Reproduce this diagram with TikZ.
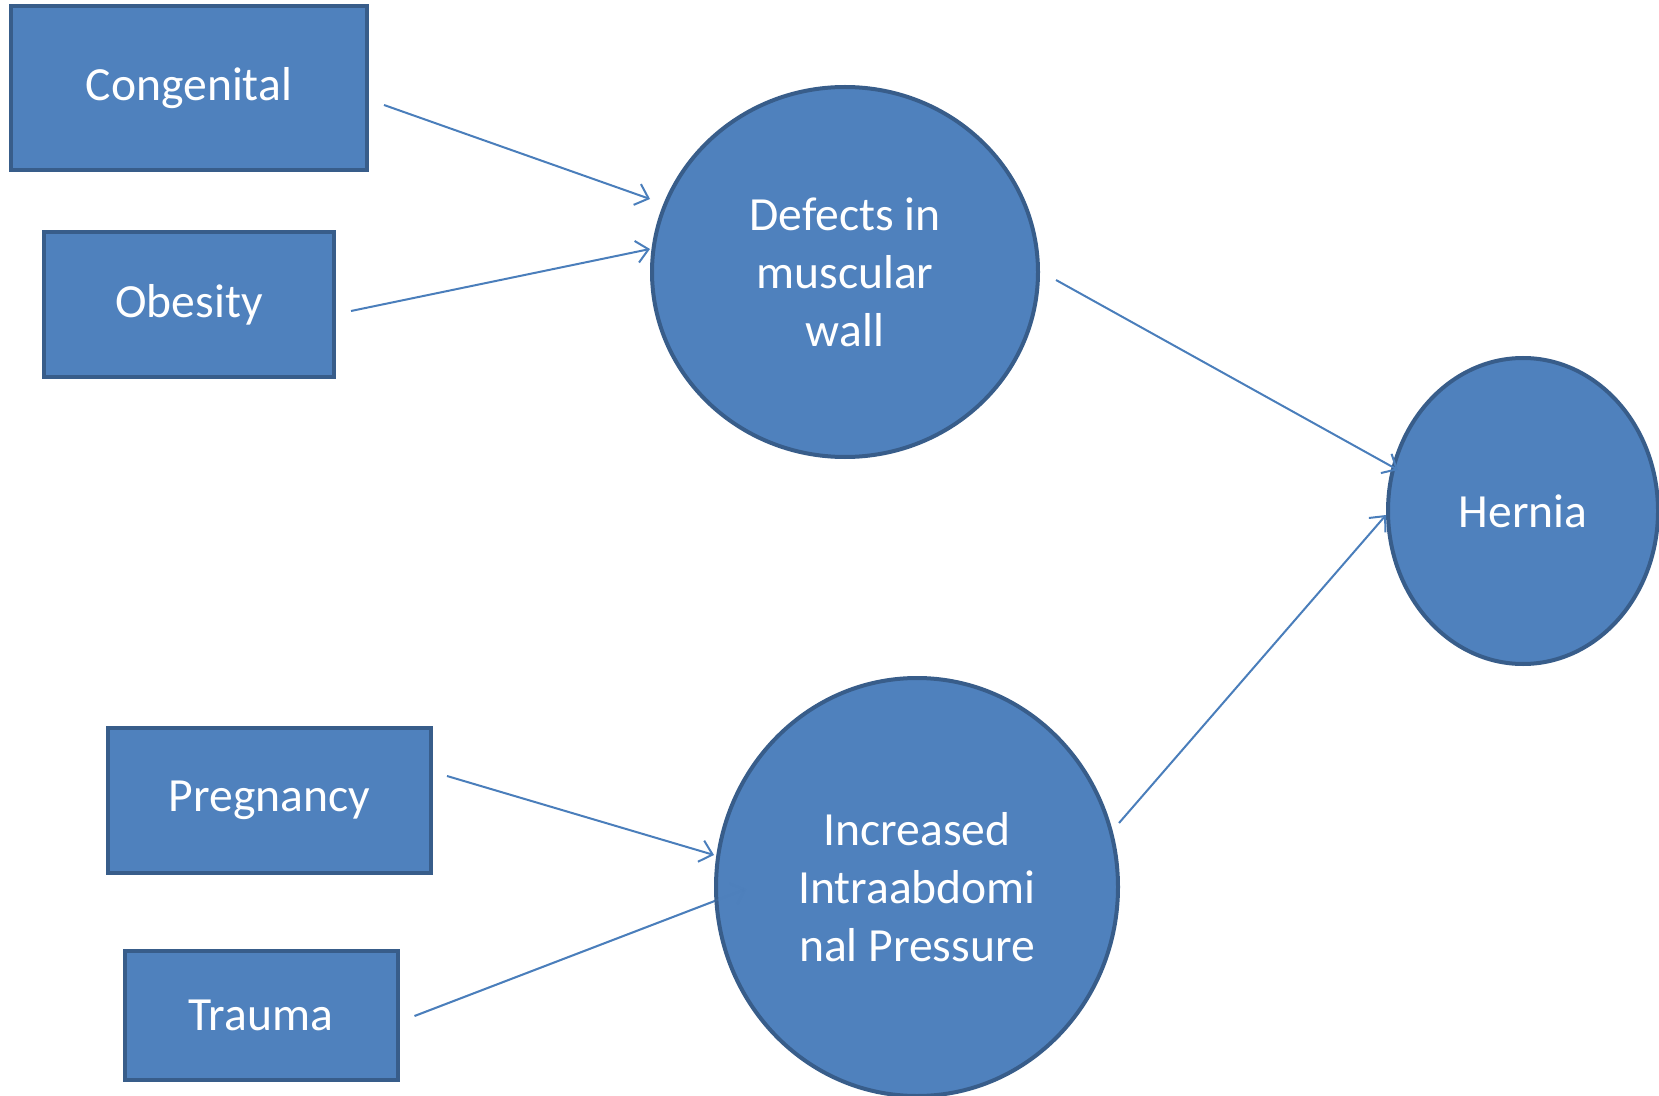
\documentclass[tikz,border=0pt]{standalone}
\usepackage{fontspec}
\setmainfont{Carlito}
\usetikzlibrary{arrows.meta,shapes.geometric,backgrounds}
\definecolor{boxfill}{HTML}{4F81BD}
\definecolor{boxline}{HTML}{385D8A}
\definecolor{arrline}{HTML}{4A7EBB}
\begin{document}
\begin{tikzpicture}[x=0.5pt,y=-0.5pt,
    cause/.style={draw=boxline,fill=boxfill,line width=2pt,text=white,
      font=\fontsize{23.8}{29}\selectfont,inner sep=0pt},
    blob/.style={ellipse,draw=boxline,fill=boxfill,line width=2pt,text=white,
      font=\fontsize{23.8}{29}\selectfont,align=center,inner sep=0pt},
    arr/.style={draw=arrline,line width=1pt,-{Straight Barb[length=6pt,width=11pt]}}]
  \useasboundingbox (0,0) rectangle (1659,1096);
  \node[cause,minimum width=178pt,minimum height=82pt] (cong) at (189,88) {Congenital};
  \node[cause,minimum width=145pt,minimum height=72.5pt] (obes) at (189,304.5) {Obesity};
  \node[cause,minimum width=161.5pt,minimum height=72.5pt] (preg) at (269.5,800) {Pregnancy};
  \node[cause,minimum width=136.5pt,minimum height=64.5pt] (trauma) at (261,1015) {Trauma};
  \node[blob,minimum width=193pt,minimum height=185pt] (defects) at (845,272)
    {Defects in\\muscular\\wall};
  \node[blob,minimum width=201pt,minimum height=209pt] (incr) at (917,887)
    {Increased\\Intraabdomi\\nal Pressure};
  \node[blob,minimum width=135pt,minimum height=153pt] (hernia) at (1523,511) {Hernia};
  % arrows
  \draw[arr] ([xshift=7.5pt,yshift=-8.5pt]cong.east) -- ([yshift=36.5pt]defects.west);
  \draw[arr] ([xshift=7.5pt,yshift=-3.25pt]obes.east) -- ([yshift=11.5pt]defects.west);
  \draw[arr] ([xshift=8pt,yshift=-4pt]defects.east) -- ([xshift=6pt,yshift=20.5pt]hernia.west);
  \draw[arr] ([xshift=7pt,yshift=12pt]preg.east) -- ([yshift=16pt]incr.west);
  \begin{scope}[on background layer]
    \draw[arr] ([xshift=7.5pt,yshift=-0.5pt]trauma.east) -- ([xshift=16pt,yshift=-1pt]incr.west);
  \end{scope}
  % tip seen faintly through the fill
  \draw[arr,draw opacity=0.2] ([xshift=7.5pt,yshift=-0.5pt]trauma.east) -- ([xshift=16pt,yshift=-1pt]incr.west);
  \draw[arr] ([xshift=-0.5pt,yshift=32pt]incr.east) -- ([yshift=-2pt]hernia.west);
\end{tikzpicture}
\end{document}
